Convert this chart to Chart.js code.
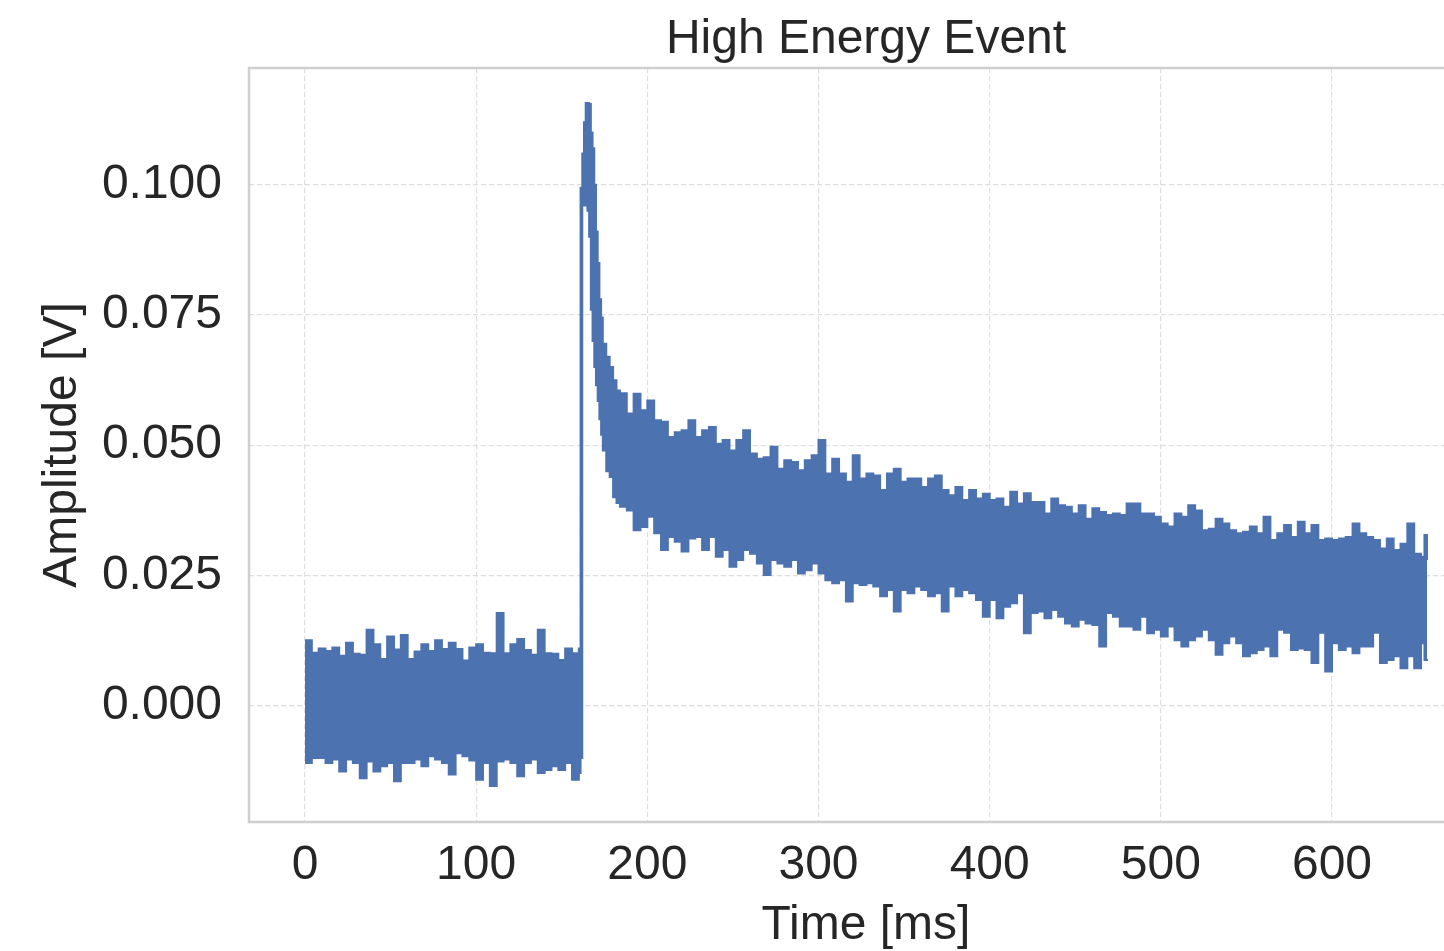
<!DOCTYPE html>
<html>
<head>
<meta charset="utf-8">
<title>High Energy Event</title>
<script src="https://cdn.jsdelivr.net/npm/chart.js@4.4.1/dist/chart.umd.min.js"></script>
<style>
  html, body { margin: 0; padding: 0; background: #fff; overflow: hidden; }
  #wrap { width: 1488px; height: 951px; }
</style>
</head>
<body>
<div id="wrap"><canvas id="event" width="1488" height="951"></canvas></div>
<script>
// envelope of the noisy trace (upper / lower edge, volts)
const baseT  = [0, 4, 8, 12, 16, 20, 24, 28, 32, 36, 40, 44, 48, 52, 56, 60, 64, 68, 72, 76,
                80, 84, 88, 92, 96, 100, 104, 108, 112, 116, 120, 124, 128, 132, 136, 140, 144, 148, 152, 156, 160];
const baseHi = [0.0126, 0.0102, 0.0110, 0.0105, 0.0112, 0.0096, 0.0121, 0.0100, 0.0098, 0.0146,
                0.0118, 0.0090, 0.0133, 0.0108, 0.0136, 0.0090, 0.0104, 0.0118, 0.0105, 0.0126,
                0.0109, 0.0121, 0.0109, 0.0087, 0.0112, 0.0118, 0.0102, 0.0101, 0.0178, 0.0101,
                0.0118, 0.0128, 0.0107, 0.0098, 0.0146, 0.0101, 0.0100, 0.0088, 0.0110, 0.0101, 0.0110];
const baseLo = [-0.0110, -0.0100, -0.0100, -0.0110, -0.0103, -0.0126, -0.0103, -0.0110, -0.0139, -0.0107,
                -0.0126, -0.0116, -0.0110, -0.0145, -0.0110, -0.0110, -0.0103, -0.0116, -0.0097, -0.0103,
                -0.0110, -0.0132, -0.0091, -0.0097, -0.0105, -0.0142, -0.0110, -0.0154, -0.0107, -0.0103,
                -0.0110, -0.0135, -0.0110, -0.0103, -0.0129, -0.0123, -0.0116, -0.0123, -0.0110, -0.0142, -0.0129];

const peakT  = [161, 162, 163, 164, 165, 166, 167, 168, 169, 170, 171, 172, 173, 174, 176, 178, 180, 182];
const peakHi = [0.0994, 0.1060, 0.1120, 0.1157, 0.1157, 0.1155, 0.1100, 0.1070, 0.1000, 0.0910,
                0.0850, 0.0780, 0.0745, 0.0695, 0.0670, 0.0650, 0.0625, 0.0605];
const peakLo = [-0.0100, 0.0960, 0.0980, 0.0960, 0.0950, 0.0900, 0.0760, 0.0700, 0.0650, 0.0615,
                0.0585, 0.0550, 0.0520, 0.0490, 0.0450, 0.0439, 0.0400, 0.0389];

const tailT  = [184, 188, 192, 196, 200, 204, 208, 212, 216, 220, 224, 228, 232, 236, 240, 244, 248, 252, 256, 260,
                264, 268, 272, 276, 280, 284, 288, 292, 296, 300, 304, 308, 312, 316, 320, 324, 328, 332, 336, 340,
                344, 348, 352, 356, 360, 364, 368, 372, 376, 380, 384, 388, 392, 396, 400, 404, 408, 412, 416, 420,
                424, 428, 432, 436, 440, 444, 448, 452, 456, 460, 464, 468, 472, 476, 480, 484, 488, 492, 496, 500,
                504, 508, 512, 516, 520, 524, 528, 532, 536, 540, 544, 548, 552, 556, 560, 564, 568, 572, 576, 580,
                584, 588, 592, 596, 600, 604, 608, 612, 616, 620, 624, 628, 632, 636, 640, 644, 648, 652, 654, 655.5];
const tailHi = [0.0600, 0.0561, 0.0599, 0.0567, 0.0586, 0.0548, 0.0545, 0.0516, 0.0525, 0.0529,
                0.0548, 0.0516, 0.0529, 0.0535, 0.0503, 0.0510, 0.0490, 0.0510, 0.0529, 0.0484,
                0.0474, 0.0477, 0.0497, 0.0455, 0.0471, 0.0468, 0.0452, 0.0471, 0.0481, 0.0510,
                0.0446, 0.0474, 0.0446, 0.0430, 0.0481, 0.0436, 0.0446, 0.0442, 0.0414, 0.0446,
                0.0455, 0.0430, 0.0436, 0.0436, 0.0420, 0.0436, 0.0442, 0.0414, 0.0404, 0.0420,
                0.0395, 0.0414, 0.0398, 0.0407, 0.0395, 0.0398, 0.0382, 0.0411, 0.0388, 0.0408,
                0.0391, 0.0391, 0.0369, 0.0398, 0.0385, 0.0382, 0.0369, 0.0385, 0.0359, 0.0379,
                0.0372, 0.0366, 0.0369, 0.0366, 0.0388, 0.0388, 0.0369, 0.0369, 0.0363, 0.0350,
                0.0344, 0.0369, 0.0363, 0.0385, 0.0375, 0.0337, 0.0340, 0.0359, 0.0350, 0.0337,
                0.0331, 0.0334, 0.0344, 0.0331, 0.0363, 0.0318, 0.0331, 0.0347, 0.0324, 0.0353,
                0.0331, 0.0347, 0.0318, 0.0321, 0.0318, 0.0321, 0.0324, 0.0350, 0.0331, 0.0324,
                0.0318, 0.0302, 0.0321, 0.0299, 0.0311, 0.0350, 0.0292, 0.0286, 0.0328, 0.0280];
const tailLo = [0.0382, 0.0375, 0.0337, 0.0343, 0.0363, 0.0331, 0.0299, 0.0324, 0.0315, 0.0296,
                0.0321, 0.0324, 0.0299, 0.0324, 0.0286, 0.0299, 0.0267, 0.0280, 0.0299, 0.0292,
                0.0273, 0.0251, 0.0280, 0.0273, 0.0267, 0.0280, 0.0254, 0.0260, 0.0273, 0.0254,
                0.0241, 0.0235, 0.0241, 0.0200, 0.0235, 0.0232, 0.0235, 0.0229, 0.0210, 0.0222,
                0.0181, 0.0222, 0.0216, 0.0229, 0.0222, 0.0210, 0.0216, 0.0181, 0.0229, 0.0210,
                0.0222, 0.0216, 0.0203, 0.0171, 0.0203, 0.0168, 0.0190, 0.0197, 0.0216, 0.0139,
                0.0178, 0.0181, 0.0168, 0.0184, 0.0171, 0.0158, 0.0152, 0.0165, 0.0158, 0.0155,
                0.0114, 0.0178, 0.0171, 0.0152, 0.0152, 0.0146, 0.0171, 0.0139, 0.0146, 0.0133,
                0.0152, 0.0126, 0.0114, 0.0126, 0.0133, 0.0146, 0.0126, 0.0098, 0.0120, 0.0133,
                0.0120, 0.0095, 0.0101, 0.0107, 0.0114, 0.0095, 0.0146, 0.0140, 0.0107, 0.0110,
                0.0107, 0.0082, 0.0140, 0.0066, 0.0120, 0.0107, 0.0114, 0.0101, 0.0114, 0.0114,
                0.0140, 0.0082, 0.0088, 0.0095, 0.0072, 0.0095, 0.0072, 0.0120, 0.0088, 0.0090];

const xTicks = [0, 100, 200, 300, 400, 500, 600];
const yTicks = [0, 0.025, 0.05, 0.075, 0.1];

const BLUE = '#4c72b0';
const INK  = '#262626';
const FONT = "'Liberation Sans', Arial, sans-serif";

const timeMs = baseT.concat(peakT, tailT);
const upperV = baseHi.concat(peakHi, tailHi);
const lowerV = baseLo.concat(peakLo, tailLo);
const toPts  = vals => timeMs.map((t, i) => ({ x: t, y: vals[i] }));

// light grey spines round the plot area
const frame = {
  id: 'frame',
  beforeDatasetsDraw(chart) {
    const { ctx, chartArea: a } = chart;
    ctx.save();
    ctx.strokeStyle = '#cfcfcf';
    ctx.lineWidth = 2.5;
    ctx.strokeRect(a.left, a.top, a.right - a.left, a.bottom - a.top);
    ctx.restore();
  },
};

// title centred over the axes, not the canvas
const axesTitle = {
  id: 'axesTitle',
  afterDraw(chart, args, opts) {
    const { ctx, chartArea: a } = chart;
    ctx.save();
    ctx.font = `48px ${FONT}`;
    ctx.fillStyle = INK;
    ctx.textAlign = 'center';
    ctx.textBaseline = 'alphabetic';
    ctx.fillText(opts.text, (a.left + a.right) / 2, 53);
    ctx.restore();
  },
};

const tickFont  = { family: FONT, size: 48 };
const titleFont = { family: FONT, size: 48, lineHeight: 1 };

new Chart(document.getElementById('event'), {
  type: 'line',
  data: {
    datasets: [
      { label: 'lower', data: toPts(lowerV), borderColor: BLUE, borderWidth: 2,
        pointRadius: 0, stepped: true, fill: false },
      { label: 'upper', data: toPts(upperV), borderColor: BLUE, backgroundColor: BLUE, borderWidth: 2,
        pointRadius: 0, stepped: true, fill: '-1' },
    ],
  },
  options: {
    responsive: false,
    animation: false,
    layout: { padding: { top: 68, right: 5, bottom: 0, left: 0 } },
    plugins: {
      legend: { display: false },
      tooltip: { enabled: false },
      axesTitle: { text: 'High Energy Event' },
    },
    scales: {
      x: {
        type: 'linear',
        min: -32.7,
        max: 688.2,
        afterBuildTicks: s => { s.ticks = xTicks.map(v => ({ value: v })); },
        afterFit: s => { s.height = 129; },
        grid: { color: '#dedede', lineWidth: 1.2, drawTicks: false },
        border: { display: false, dash: [5, 3] },
        ticks: { color: INK, font: tickFont, padding: 15, maxRotation: 0, callback: v => String(v) },
        title: { display: true, text: 'Time [ms]', color: INK, font: titleFont, padding: { top: 0, bottom: 1 } },
      },
      y: {
        min: -0.0223,
        max: 0.1224,
        afterBuildTicks: s => { s.ticks = yTicks.map(v => ({ value: v })); },
        afterFit: s => { s.width = 249; },
        grid: { color: '#dedede', lineWidth: 1.2, drawTicks: false },
        border: { display: false, dash: [5, 3] },
        ticks: { color: INK, font: tickFont, padding: 27, callback: v => v.toFixed(3) },
        title: { display: true, text: 'Amplitude [V]', color: INK, font: titleFont, padding: { top: 39, bottom: 0 } },
      },
    },
  },
  plugins: [frame, axesTitle],
});
</script>
</body>
</html>
